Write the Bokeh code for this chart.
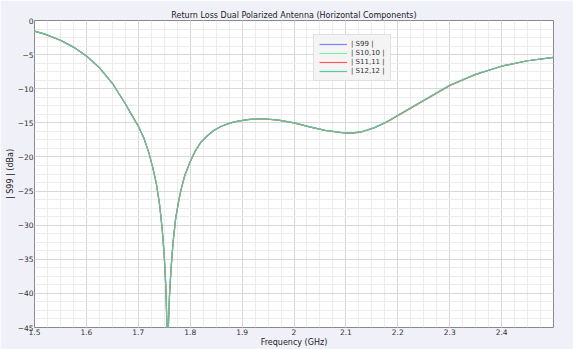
from bokeh.plotting import figure
from bokeh.models import Range1d, FixedTicker, Legend, LegendItem
from bokeh.embed import file_html
from bokeh.resources import INLINE

freq = [1.50, 1.52, 1.55, 1.575, 1.60, 1.625, 1.65, 1.675, 1.69, 1.70, 1.71, 1.72, 1.728,
        1.735, 1.741, 1.746, 1.750, 1.753, 1.7565, 1.760, 1.763, 1.767, 1.772, 1.777,
        1.782, 1.79, 1.80, 1.81, 1.82, 1.833, 1.846, 1.86, 1.878, 1.895, 1.915, 1.94,
        1.97, 2.00, 2.03, 2.06, 2.09, 2.11, 2.13, 2.155, 2.18, 2.207, 2.25, 2.30, 2.35,
        2.40, 2.45, 2.50]
s99 = [-1.55, -2.0, -2.9, -3.9, -5.2, -6.9, -9.2, -12.2, -14.2, -15.5, -17.1, -19.3, -21.6,
       -24.0, -27.0, -30.5, -34.5, -39.0, -48.0, -40.5, -36.5, -32.5, -29.0, -26.8,
       -24.9, -22.6, -20.7, -19.1, -17.9, -16.9, -16.1, -15.5, -15.0, -14.7, -14.5, -14.4,
       -14.6, -15.0, -15.6, -16.1, -16.4, -16.5, -16.3, -15.7, -14.8, -13.6, -11.7, -9.5, -7.9,
       -6.7, -5.9, -5.4]
s1010 = list(s99)
s1111 = [-1.55, -2.0, -2.9, -3.9, -5.2, -6.9, -9.2, -12.2, -14.2, -15.5, -17.1, -19.3, -21.6,
         -24.0, -27.0, -30.5, -34.5, -39.0, -48.0, -40.5, -36.5, -32.5, -29.0, -26.8,
         -24.9, -22.6, -20.7, -19.1, -17.9, -16.9, -16.1, -15.5, -15.0, -14.7, -14.5, -14.4,
         -14.6, -15.0, -15.6, -16.1, -16.45, -16.55, -16.35, -15.75, -14.85, -13.65, -11.75,
         -9.55, -7.9, -6.7, -5.9, -5.4]
s1212 = list(s99)

series_names = ["| S99 |", "| S10,10 |", "| S11,11 |", "| S12,12 |"]
series_vals = [s99, s1010, s1111, s1212]
series_colors = ["#8080ff", "#80f0a8", "#ff5a5a", "#58c898"]

x_ticks = [1.5, 1.6, 1.7, 1.8, 1.9, 2.0, 2.1, 2.2, 2.3, 2.4]
x_tick_labels = {1.5: "1.5", 1.6: "1.6", 1.7: "1.7", 1.8: "1.8", 1.9: "1.9", 2.0: "2",
                 2.1: "2.1", 2.2: "2.2", 2.3: "2.3", 2.4: "2.4"}
y_ticks = [0, -5, -10, -15, -20, -25, -30, -35, -40, -45]

p = figure(width=573, height=349, output_backend="svg", toolbar_location=None,
           x_range=Range1d(1.5, 2.5), y_range=Range1d(-45, 0),
           title="Return Loss Dual Polarized Antenna (Horizontal Components)")
p.min_border_left = 34
p.min_border_right = 20
p.min_border_top = 20
p.min_border_bottom = 21
p.border_fill_color = "#f0f0f8"
p.background_fill_color = "white"
p.outline_line_color = "#888888"
p.outline_line_width = 1

p.title.align = "center"
p.title.text_font = "DejaVu Sans"
p.title.text_font_size = "8px"
p.title.text_font_style = "normal"
p.title.text_color = "#222222"
p.title.standoff = 1

p.xaxis.ticker = FixedTicker(ticks=x_ticks,
                             minor_ticks=[1.5 + 0.025 * i for i in range(41)])
p.xaxis.major_label_overrides = x_tick_labels
p.yaxis.ticker = FixedTicker(ticks=y_ticks,
                             minor_ticks=[-1.25 * i for i in range(37)])
p.xaxis.axis_label = "Frequency (GHz)"
p.yaxis.axis_label = "| S99 | (dBa)"

for ax in (p.xaxis, p.yaxis):
    ax.axis_line_color = None
    ax.major_tick_line_color = None
    ax.minor_tick_line_color = None
    ax.major_tick_out = 0
    ax.major_tick_in = 0
    ax.minor_tick_out = 0
    ax.minor_tick_in = 0
    ax.major_label_text_font = "DejaVu Sans"
    ax.major_label_text_font_size = "7.5px"
    ax.major_label_text_color = "#333333"
    ax.axis_label_text_font = "DejaVu Sans"
    ax.axis_label_text_font_size = "8px"
    ax.axis_label_text_font_style = "normal"
    ax.axis_label_text_color = "#222222"
    ax.major_label_standoff = 1
    ax.axis_label_standoff = 0

p.xgrid.grid_line_color = "#d8d8d8"
p.ygrid.grid_line_color = "#d8d8d8"
p.xgrid.minor_grid_line_color = "#ececec"
p.ygrid.minor_grid_line_color = "#ececec"

items = []
for name, vals, col in zip(series_names, series_vals, series_colors):
    r = p.line(freq, vals, line_color=col, line_width=1.2)
    items.append(LegendItem(label=name, renderers=[r]))

legend = Legend(items=items, location=(279, 246))
legend.background_fill_color = "#f4f4f4"
legend.background_fill_alpha = 1.0
legend.border_line_color = "#cccccc"
legend.label_text_font = "DejaVu Sans"
legend.label_text_font_size = "7px"
legend.label_text_color = "#333333"
legend.glyph_width = 28
legend.glyph_height = 8
legend.label_height = 8
legend.spacing = 1
legend.padding = 5
legend.margin = 0
legend.label_standoff = 4
p.add_layout(legend, "center")

open("out.html", "w").write(file_html(p, INLINE))
